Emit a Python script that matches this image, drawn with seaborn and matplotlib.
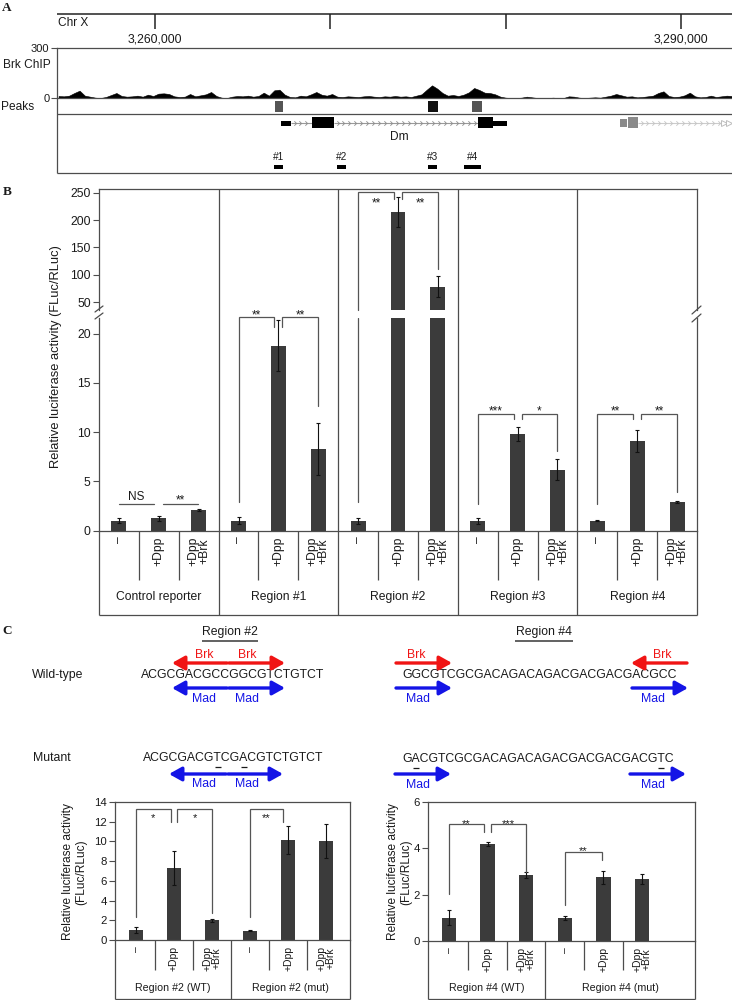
import numpy as np
import pandas as pd
import seaborn as sns
import matplotlib.pyplot as plt
from matplotlib.path import Path
from matplotlib.font_manager import FontProperties

# ---------------- panel A: genome browser view ----------------
view_start, view_end = 3254411, 3292906
ruler_ticks = [3260000, 3270000, 3280000, 3290000]
ruler_labels = ["3,260,000", "", "", "3,290,000"]

chip_start, chip_step = 3254500, 300
chip_signal = [12, 10, 14, 30, 44, 14, 8, 2, 0, 6,
               18, 30, 12, 8, 10, 14, 8, 20, 12, 26,
               28, 24, 10, 6, 8, 24, 10, 16, 22, 36,
               12, 2, 0, 8, 12, 10, 14, 8, 12, 32,
               14, 46, 50, 20, 6, 4, 14, 10, 22, 36,
               20, 14, 24, 8, 6, 10, 8, 6, 10, 12,
               8, 6, 10, 8, 12, 8, 10, 6, 14, 22,
               50, 76, 56, 30, 14, 18, 12, 20, 34, 60,
               48, 32, 30, 22, 8, 2, 0, 0, 2, 8,
               4, 0, 0, 0, 2, 0, 0, 10, 8, 2,
               0, 2, 4, 2, 8, 14, 24, 16, 8, 10,
               4, 6, 10, 14, 30, 40, 12, 6, 8, 16,
               32, 10, 4, 6, 14, 6, 10, 14, 12]

peak_starts = [3266844, 3275569, 3278079]
peak_ends = [3267300, 3276139, 3278649]
peak_colors = ["#555555", "#111111", "#555555"]

dm_exon_starts = [3267186, 3268954, 3278421, 3279276]
dm_exon_ends = [3267756, 3270208, 3279276, 3280075]
dm_exon_thick = [False, True, True, False]
other_exon_starts = [3286519, 3286975]
other_exon_ends = [3286918, 3287545]
other_gene_end = 3292336

region_names = ["#1", "#2", "#3", "#4"]
region_starts = [3266787, 3270379, 3275569, 3277622]
region_ends = [3267300, 3270893, 3276082, 3278592]

# ---------------- panel B: luciferase assay ----------------
b_groups = ["Control reporter", "Region #1", "Region #2", "Region #3", "Region #4"]
b_treatments = ["\u2013", "+Dpp", "+Dpp\n+Brk"]
b_means = [1.0, 1.26, 2.04, 1.0, 18.8, 8.25, 1.0, 215, 78, 1.0, 9.8, 6.2, 1.0, 9.1, 2.9]
b_errs = [0.25, 0.25, 0.1, 0.35, 2.55, 2.65, 0.3, 28, 19, 0.3, 0.7, 1.1, 0.05, 1.1, 0.1]
b_hi_ticks = [50, 100, 150, 200, 250]
b_lo_ticks = [0, 5, 10, 15, 20]
# (x left, x right, y left, y top, y right, label, label baseline)
b_brackets_lo = [
    (0.0, 0.88, 2.65, 2.65, 2.65, "NS", 3.05),
    (1.1, 1.98, 2.65, 2.65, 2.65, "**", 2.8),
    (3, 3.9, 2.85, 21.7, 20.7, "**", 21.56),
    (4.1, 5, 20.7, 21.7, 12.7, "**", 21.56),
    (9, 9.9, 2.65, 11.8, 11.3, "***", 11.76),
    (10.1, 11, 11.3, 11.8, 8.05, "*", 11.76),
    (12, 12.9, 2.65, 11.8, 11.3, "**", 11.76),
    (13.1, 14, 11.3, 11.8, 3.9, "**", 11.76),
]
b_brackets_hi = [
    (6, 6.9, None, 251, 238, "**", 225.7),
    (7.1, 8, 238, 251, 110, "**", 225.7),
]

# ---------------- panel C: binding sites and mutants ----------------
seq_r2_wt = "ACGCGACGCCGGCGTCTGTCT"
seq_r2_mut = "ACGCGACGTCGACGTCTGTCT"
seq_r4_wt = "GGCGTCGCGACAGACAGACGACGACGACGCC"
seq_r4_mut = "GACGTCGCGACAGACAGACGACGACGACGTC"

c_treatments = ["\u2013", "+Dpp", "+Dpp\n+Brk"]
c2_groups = ["Region #2 (WT)", "Region #2 (mut)"]
c2_means = [1.0, 7.3, 2.0, 0.95, 10.15, 10.05]
c2_errs = [0.3, 1.75, 0.15, 0.05, 1.45, 1.7]
c2_ticks = [0, 2, 4, 6, 8, 10, 12, 14]
c2_brackets = [
    (0, 0.92, 2.33, 13.3, 12.0, "*", 12.07),
    (1.08, 2, 12.0, 13.3, 2.74, "*", 12.07),
    (3, 3.87, 2.33, 13.3, 12.0, "**", 12.07),
]
c4_groups = ["Region #4 (WT)", "Region #4 (mut)"]
c4_means = [1.0, 4.18, 2.85, 1.0, 2.75, 2.68]
c4_errs = [0.32, 0.1, 0.12, 0.1, 0.28, 0.2]
c4_ticks = [0, 2, 4, 6]
c4_brackets = [
    (0, 0.91, 2.03, 5.04, 4.7, "**", 4.91),
    (1.09, 2, 4.7, 5.04, 2.97, "***", 4.91),
    (3, 3.96, 1.55, 3.84, 3.49, "**", 3.75),
]

BAR = "#3b3b3b"
FRAME = "#4d4d4d"
TXT = "#1a1a1a"
RED = "#f01414"
BLUE = "#1414e6"
FONT = ["Liberation Sans", "DejaVu Sans"]

sns.set_theme(style="ticks")
plt.rcParams["font.family"] = FONT
plt.rcParams["text.color"] = TXT
plt.rcParams["axes.edgecolor"] = FRAME
plt.rcParams["axes.linewidth"] = 0.9

W, H = 732, 1000
fig = plt.figure(figsize=(W / 100, H / 100), dpi=100)


def ax_px(x0, y0, x1, y1):
    ax = fig.add_axes([x0 / W, 1 - y1 / H, (x1 - x0) / W, (y1 - y0) / H])
    ax.set_facecolor("none")
    return ax


ov = ax_px(0, 0, W, H)
ov.set_xlim(0, W)
ov.set_ylim(H, 0)
ov.axis("off")
ov.set_zorder(10)

letter_kw = dict(fontfamily="Liberation Serif", fontweight="bold", fontsize=9.5, ha="center", va="center")
ov.text(7, 8, "A", **letter_kw)
ov.text(7, 192, "B", **letter_kw)
ov.text(7, 631, "C", **letter_kw)

# ---- panel A ----
axA = ax_px(57, 0, 732, 176)
axA.set_xlim(view_start, view_end)
axA.set_ylim(176, 0)
axA.axis("off")
axA.hlines(14, view_start, view_end, color="#222222", lw=1.1, clip_on=False)
axA.vlines(ruler_ticks, 14, 29, color="#222222", lw=1.1)
for t, lab in zip(ruler_ticks, ruler_labels):
    axA.text(t, 39, lab, ha="center", va="center", fontsize=8.8)
axA.hlines([114, 173], view_start, view_end, color=FRAME, lw=0.9, clip_on=False)
axA.vlines(view_start, 98, 173, color=FRAME, lw=0.9, clip_on=False)
ov.text(58, 23, "Chr X", ha="left", va="center", fontsize=8.6)
ov.text(51, 65, "Brk ChIP", ha="right", va="center", fontsize=8.6)
ov.text(1, 107, "Peaks", ha="left", va="center", fontsize=8.6)

axA.bar(peak_starts, 11, width=np.subtract(peak_ends, peak_starts), bottom=101,
        align="edge", color=peak_colors, lw=0)

chev = Path([(-0.5, 1), (0.5, 0), (-0.5, -1)], [Path.MOVETO, Path.LINETO, Path.LINETO])
thick_h = [11 if k else 5 for k in dm_exon_thick]
thick_b = [117 if k else 121 for k in dm_exon_thick]
axA.bar(dm_exon_starts, thick_h, width=np.subtract(dm_exon_ends, dm_exon_starts), bottom=thick_b,
        align="edge", color="black", lw=0, zorder=3)
for e, s in zip(dm_exon_ends[:-1], dm_exon_starts[1:]):
    if s > e:
        axA.hlines(123, e, s, color="#9a9a9a", lw=0.8)
        xs = np.arange(e + 200, s - 100, 340)
        axA.plot(xs, np.full(len(xs), 123), ls="none", marker=chev, ms=3.2,
                 mec="#8c8c8c", mfc="none", mew=0.6)
axA.text((dm_exon_starts[0] + dm_exon_ends[-1]) / 2 + 300, 137, "Dm", ha="center", va="center", fontsize=8.6)

axA.bar(other_exon_starts, [8, 11], width=np.subtract(other_exon_ends, other_exon_starts),
        bottom=[119, 117], align="edge", color="#8a8a8a", lw=0, zorder=3)
axA.hlines(123, other_exon_ends[-1], other_gene_end, color="#cccccc", lw=0.8)
xs = np.arange(other_exon_ends[-1] + 200, other_gene_end - 100, 340)
axA.plot(xs, np.full(len(xs), 123), ls="none", marker=chev, ms=3.2, mec="#c4c4c4", mfc="none", mew=0.6)
axA.plot([other_gene_end + 120, other_gene_end + 380], [123, 123], ls="none", marker=">", ms=5,
         mfc="white", mec="#bdbdbd", mew=0.7, clip_on=False)

axA.bar(region_starts, 3.5, width=np.subtract(region_ends, region_starts), bottom=165.5,
        align="edge", color="black", lw=0)
for n, s, e in zip(region_names, region_starts, region_ends):
    axA.text((s + e) / 2, 157, n, ha="center", va="center", fontsize=7.2)

axC = ax_px(57, 48, 732, 98)
chip_pos = chip_start + chip_step * np.arange(len(chip_signal))
axC.fill_between(chip_pos, chip_signal, 0, color="black", lw=0.4)
axC.set_xlim(view_start, view_end)
axC.set_ylim(0, 300)
axC.set_yticks([0, 300])
axC.set_xticks([])
axC.spines["right"].set_visible(False)
axC.tick_params(axis="y", length=4, width=0.8, pad=1.5, labelsize=8, colors=FRAME, labelcolor=TXT)


# ---- helpers ----
def bracket(ax, x0, x1, y0, ytop, y1, label, label_y, fs):
    ax.plot([x0, x0, x1, x1], [y0, ytop, ytop, y1], color="#555555", lw=0.9, clip_on=False,
            solid_joinstyle="miter")
    ax.text((x0 + x1) / 2, label_y, label, ha="center", va="baseline", fontsize=fs, clip_on=False)


def bars(ax, slots, means, errs):
    df = pd.DataFrame({"slot": slots, "value": means})
    sns.barplot(data=df, x="slot", y="value", order=slots, color=BAR, saturation=1,
                width=0.375, errorbar=None, linewidth=0, ax=ax)
    ax.errorbar(np.arange(len(means)), means, yerr=errs, fmt="none", ecolor="#111111",
                elinewidth=0.8, capsize=1.3, capthick=0.8)
    ax.set(xlabel="", ylabel="", xticks=[])
    ax.set_facecolor("none")


def category_box(x0, x1, xlim, groups, treats, top, zero, sep, bottom, label_y, tick_fs, group_fs, lsp):
    fr = ax_px(x0, top, x1, bottom)
    fr.set_xlim(*xlim)
    fr.set_ylim(bottom, top)
    fr.axis("off")
    n = len(treats)
    edges = [k * n - 0.5 for k in range(1, len(groups))]
    fr.vlines(edges, top, bottom, color=FRAME, lw=0.9, clip_on=False)
    inner = [k * n + j + 0.5 for k in range(len(groups)) for j in range(n - 1)]
    fr.vlines(inner, zero, sep, color=FRAME, lw=0.9, clip_on=False)
    fr.vlines(list(xlim), zero, bottom, color=FRAME, lw=0.9, clip_on=False)
    fr.hlines(bottom, xlim[0], xlim[1], color=FRAME, lw=0.9, clip_on=False)
    for k in range(len(groups)):
        for j, t in enumerate(treats):
            fr.text(k * n + j, zero + 6, t, rotation=90, ha="center", va="top", fontsize=tick_fs,
                    linespacing=lsp, multialignment="center")
    bounds = [xlim[0]] + edges + [xlim[1]]
    for k, g in enumerate(groups):
        fr.text((bounds[k] + bounds[k + 1]) / 2, label_y, g, ha="center", va="center", fontsize=group_fs)


# ---- panel B ----
b_slots = [f"{g}|{t}" for g in b_groups for t in b_treatments]
bx = (-0.5, len(b_slots) - 0.5)
ax_hi = ax_px(99, 189, 697, 310)
ax_lo = ax_px(99, 318, 697, 530.5)
for ax in (ax_hi, ax_lo):
    bars(ax, b_slots, b_means, b_errs)
    ax.set_xlim(*bx)
    ax.tick_params(axis="y", direction="out", length=4, width=0.8, pad=2, labelsize=8.7,
                   colors=FRAME, labelcolor=TXT)
    ax.tick_params(axis="x", length=0)
ax_hi.set_ylim(35.4, 256.8)
ax_hi.set_yticks(b_hi_ticks)
ax_hi.spines["bottom"].set_visible(False)
ax_lo.set_ylim(0, 21.6)
ax_lo.set_yticks(b_lo_ticks)
ax_lo.spines["top"].set_visible(False)

for b in b_brackets_lo:
    bracket(ax_lo, *b, fs=8.5)
for x0, x1, y0, yt, y1, lab, ly in b_brackets_hi:
    bracket(ax_hi, x0, x1, ax_hi.get_ylim()[0] if y0 is None else y0, yt, y1, lab, ly, fs=8.5)
ax_lo.plot([b_brackets_hi[0][0]] * 2, [2.85, ax_lo.get_ylim()[1]], color="#555555", lw=0.9)

category_box(99, 697, bx, b_groups, b_treatments, 189, 530.5, 580, 615, 597, 8.7, 8.7, 0.9)

for xa, xb, ya, yb in [(95, 103, 312, 306), (95, 103, 319, 313), (692, 701, 314, 306), (692, 701, 322, 314)]:
    ov.plot([xa, xb], [ya, yb], color=FRAME, lw=0.9)
ov.text(56, 357, "Relative luciferase activity (FLuc/RLuc)", rotation=90, ha="center", va="center",
        fontsize=9.3)

# ---- panel C: sequences ----
renderer = fig.canvas.get_renderer()
seq_fs = 8.85
seq_prop = FontProperties(family=FONT, size=seq_fs)


def text_w(s):
    if not s:
        return 0.0
    return renderer.get_text_width_height_descent(s, seq_prop, ismath=False)[0]


def sequence(x, y, seq, ref=None):
    ov.text(x, y, seq, ha="left", va="center", fontsize=seq_fs)
    if ref is None:
        return
    for i, (a, b) in enumerate(zip(seq, ref)):
        if a != b:
            c = x + text_w(seq[:i]) + text_w(seq[i]) / 2
            ov.hlines(y + 9, c - 3, c + 3, color=TXT, lw=0.9)


def site(tail, head, y, color, label, lx, ly):
    ov.annotate("", xy=(head, y), xytext=(tail, y),
                arrowprops=dict(arrowstyle="-|>,head_length=0.75,head_width=0.42", lw=2.4,
                                color=color, mutation_scale=10, shrinkA=0, shrinkB=0))
    ov.text(lx, ly, label, ha="center", va="center", fontsize=8.8, color=color)


for cx, x0, x1, lab in [(230, 202, 258, "Region #2"), (544, 515, 573, "Region #4")]:
    ov.text(cx, 632, lab, ha="center", va="center", fontsize=8.8)
    ov.hlines(640.5, x0, x1, color="#555555", lw=1.3)

ov.text(32, 675, "Wild-type", ha="left", va="center", fontsize=8.8)
ov.text(33, 758, "Mutant", ha="left", va="center", fontsize=8.8)

sequence(141, 675, seq_r2_wt)
sequence(402, 675, seq_r4_wt)
sequence(143, 758, seq_r2_mut, seq_r2_wt)
sequence(402, 759, seq_r4_mut, seq_r4_wt)

site(227, 172, 663, RED, "Brk", 204, 655)
site(229, 285, 663, RED, "Brk", 247, 655)
site(227, 172, 688, BLUE, "Mad", 204, 699)
site(229, 285, 688, BLUE, "Mad", 247, 699)
site(396, 452, 663, RED, "Brk", 416, 655)
site(687, 631, 663, RED, "Brk", 662, 655)
site(396, 452, 688, BLUE, "Mad", 418, 699)
site(632, 688, 688, BLUE, "Mad", 653, 699)
site(226, 169, 774, BLUE, "Mad", 204, 784)
site(228, 283, 774, BLUE, "Mad", 247, 784)
site(395, 451, 774, BLUE, "Mad", 418, 785)
site(630, 686, 774, BLUE, "Mad", 653, 785)


# ---- panel C: small bar charts ----
def small_chart(x0, x1, y0, y1, xlim, groups, means, errs, ticks, brackets, ylab_x):
    slots = [f"{g}|{t}" for g in groups for t in c_treatments]
    ax = ax_px(x0, y0, x1, y1)
    bars(ax, slots, means, errs)
    ax.set_xlim(*xlim)
    ax.set_ylim(ticks[0], ticks[-1])
    ax.set_yticks(ticks)
    ax.tick_params(axis="y", direction="out", length=4, width=0.8, pad=2, labelsize=8.2,
                   colors=FRAME, labelcolor=TXT)
    ax.tick_params(axis="x", length=0)
    for b in brackets:
        bracket(ax, *b, fs=8)
    category_box(x0, x1, xlim, groups, c_treatments, y1, y1, 970, 999, 988, 7.5, 7.7, 0.95)
    ov.text(ylab_x, 872, "Relative luciferase activity\n(FLuc/RLuc)", rotation=90, ha="center",
            va="center", fontsize=8.6, multialignment="center", linespacing=1.15)


small_chart(115, 350, 802, 940, (-0.55, 5.63), c2_groups, c2_means, c2_errs, c2_ticks, c2_brackets, 75)
small_chart(428, 695, 802, 941, (-0.54, 6.37), c4_groups, c4_means, c4_errs, c4_ticks, c4_brackets, 400)

fig.savefig("out.png", dpi=100)
